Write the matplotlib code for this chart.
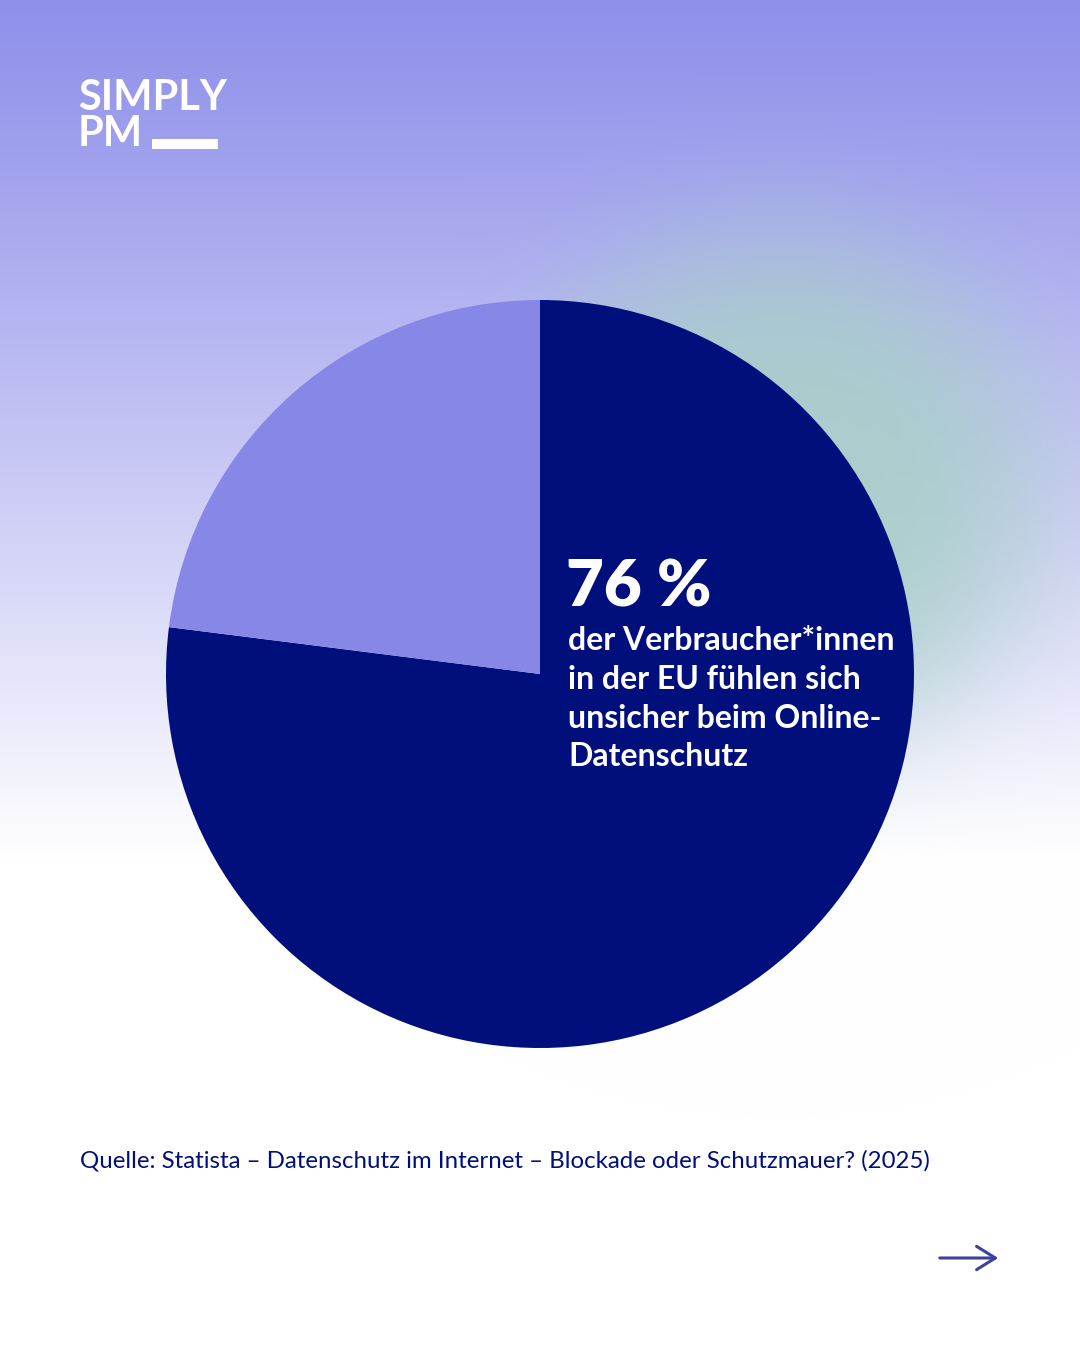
import numpy as np
import matplotlib.pyplot as plt
from matplotlib.patches import Rectangle

# data (slice sizes)
shares = [77, 23]
share_colors = ['#000F7C', '#8787E8']
headline = '76 %'
body_lines = ['der Verbraucher*innen', 'in der EU fühlen sich',
              'unsicher beim Online-', 'Datenschutz']
source = 'Quelle: Statista – Datenschutz im Internet – Blockade oder Schutzmauer? (2025)'

W, H = 1080, 1350
fig = plt.figure(figsize=(W / 100, H / 100), dpi=100)
ax = fig.add_axes([0, 0, 1, 1])

# background: vertical purple->white fade plus a soft green glow
yy, xx = np.mgrid[0:H, 0:W]
t = np.clip(yy / 860.0, 0, 1) ** 1.1
top = np.array([0x8F, 0x90, 0xEA]) / 255
bg = top[None, None, :] * (1 - t[..., None]) + t[..., None]
d = np.hypot((xx - 780) / 1.08, (yy - 490) / 1.05) / 245.0
g = np.exp(-d ** 4) * 0.85
green = np.array([0xA6, 0xCF, 0xC6]) / 255
bg = bg * (1 - g[..., None]) + green[None, None, :] * g[..., None]
ax.imshow(bg, extent=[0, W, 0, H], origin='upper', zorder=0, aspect='auto')


def py(y):
    return H - y


ax.pie(shares, colors=share_colors, startangle=90, counterclock=False,
       center=(540, py(674)), radius=374, frame=True,
       wedgeprops=dict(linewidth=0))
ax.set_xlim(0, W)
ax.set_ylim(0, H)
ax.set_aspect('auto')
ax.axis('off')

# logo
ax.text(78, py(98), 'SIMPLY', fontsize=30, fontweight='bold', family='Lato',
        color='white', va='center', ha='left')
ax.text(78, py(134), 'PM', fontsize=30, fontweight='bold', family='Lato',
        color='white', va='center', ha='left')
ax.add_patch(Rectangle((152, py(149)), 66, 10, color='white', lw=0))

# labels inside the dark slice
ax.text(566, py(588), headline, fontsize=47, fontweight='heavy', family='Lato',
        color='white', va='center', ha='left')
for i, line in enumerate(body_lines):
    ax.text(568, py(641 + i * 38.5), line, fontsize=23, fontweight='bold',
            family='Lato', color='white', va='center', ha='left')

ax.text(80, py(1161), source, fontsize=17.3, family='Lato', color='#000F7C',
        va='center', ha='left')

# arrow at the bottom right
ax.annotate('', xy=(1001, py(1258)), xytext=(937, py(1258)),
            arrowprops=dict(arrowstyle='->,head_length=0.45,head_width=0.28',
                            color='#3D419C', lw=2.2, mutation_scale=30))

fig.savefig('out.png', dpi=100)
